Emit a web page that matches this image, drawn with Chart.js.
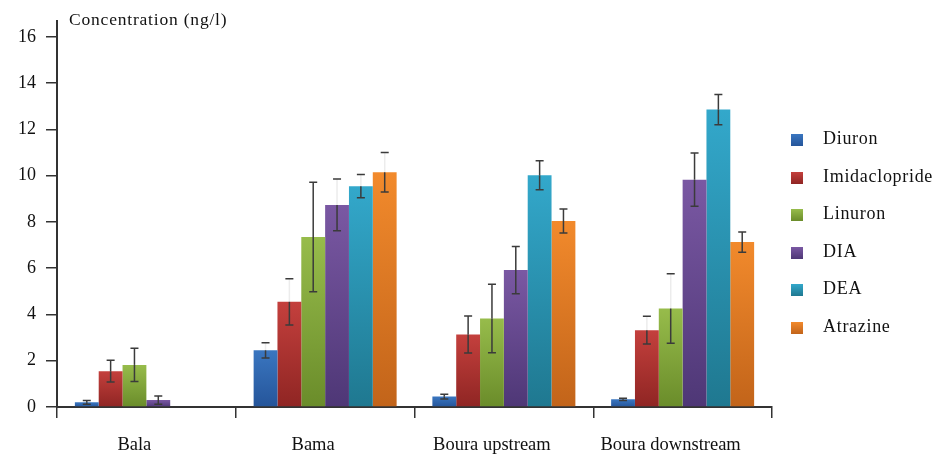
<!DOCTYPE html>
<html>
<head>
<meta charset="utf-8">
<script src="https://cdn.jsdelivr.net/npm/chart.js@4.4.1/dist/chart.umd.min.js"></script>
<style>
    html, body { margin: 0; padding: 0; background: #fff; }
    #wrap { position: relative; width: 942px; height: 469px; }
    #axisTitle {
        position: absolute; left: 69px; top: 9px;
        font: 17.5px "Liberation Serif", "DejaVu Serif", serif; color: #111;
        letter-spacing: 0.8px;
    }
    #legend { position: absolute; left: 791px; top: 0; }
    .item { position: absolute; left: 0; white-space: nowrap; height: 20px; }
    .box { position: absolute; left: 0; top: 4px; width: 12px; height: 12px; }
    .lbl {
        position: absolute; left: 32px; top: -2px;
        font: 18px "Liberation Serif", "DejaVu Serif", serif; color: #111;
        letter-spacing: 0.7px;
    }
</style>
</head>
<body>
<div id="wrap">
    <canvas id="chart"></canvas>
    <div id="axisTitle">Concentration (ng/l)</div>
    <div id="legend"></div>
</div>
<script>
    const categories = ['Bala', 'Bama', 'Boura upstream', 'Boura downstream'];
    const seriesNames = ['Diuron', 'Imidaclopride', 'Linuron', 'DIA', 'DEA', 'Atrazine'];
    const yTicks = [0, 2, 4, 6, 8, 10, 12, 14, 16];

    const diuron = [0.2, 2.45, 0.45, 0.33];
    const imidaclopride = [1.55, 4.55, 3.13, 3.32];
    const linuron = [1.82, 7.35, 3.83, 4.26];
    const dia = [0.3, 8.74, 5.92, 9.83];
    const dea = [0, 9.55, 10.02, 12.86];
    const atrazine = [0, 10.15, 8.04, 7.13];

    const diuronErr = [0.08, 0.33, 0.1, 0.05];
    const imidacloprideErr = [0.47, 1.0, 0.8, 0.6];
    const linuronErr = [0.72, 2.37, 1.48, 1.5];
    const diaErr = [0.18, 1.12, 1.02, 1.15];
    const deaErr = [0, 0.5, 0.63, 0.65];
    const atrazineErr = [0, 0.85, 0.52, 0.44];

    const values = [diuron, imidaclopride, linuron, dia, dea, atrazine];
    const errors = [diuronErr, imidacloprideErr, linuronErr, diaErr, deaErr, atrazineErr];

    // in the original some upper whiskers are almost invisible (only the cap shows)
    const faintUpper = ['0,1', '1,1', '3,1', '4,1', '5,1', '1,3', '2,3'];

    // light top / dark bottom, like the original gradient fill
    const colorsTop = ['#3a76c0', '#c4403d', '#97bc4b', '#7a58a3', '#33a8cb', '#f28a2c'];
    const colorsBottom = ['#25559a', '#8f2523', '#6a8c2a', '#4e3776', '#1f7890', '#c2641a'];

    const SERIF = '"Liberation Serif", "DejaVu Serif", serif';

    function barFill(i) {
        return function (ctx) {
            const chart = ctx.chart;
            if (!chart.chartArea || ctx.raw === undefined) return colorsTop[i];
            const y = chart.scales.y;
            const top = y.getPixelForValue(ctx.raw);
            const bottom = y.getPixelForValue(0);
            if (!isFinite(top) || bottom - top < 1) return colorsTop[i];
            const g = chart.ctx.createLinearGradient(0, top, 0, bottom);
            g.addColorStop(0, colorsTop[i]);
            g.addColorStop(1, colorsBottom[i]);
            return g;
        };
    }

    const errorBars = {
        id: 'errorBars',
        afterDatasetsDraw: function (chart) {
            const c = chart.ctx;
            const y = chart.scales.y;
            c.save();
            c.lineWidth = 1.5;
            errors.forEach(function (errs, i) {
                const meta = chart.getDatasetMeta(i);
                errs.forEach(function (e, j) {
                    if (!e) return;
                    const bar = meta.data[j];
                    const v = values[i][j];
                    const yHi = y.getPixelForValue(v + e);
                    const yMid = y.getPixelForValue(v);
                    const yLo = y.getPixelForValue(v - e);
                    const faint = faintUpper.indexOf(i + ',' + j) >= 0;
                    // upper whisker
                    c.strokeStyle = faint ? '#ececec' : '#3b3b3b';
                    c.beginPath();
                    c.moveTo(bar.x, yHi);
                    c.lineTo(bar.x, yMid);
                    c.stroke();
                    // lower whisker and caps
                    c.strokeStyle = '#3b3b3b';
                    c.beginPath();
                    c.moveTo(bar.x, yMid);
                    c.lineTo(bar.x, yLo);
                    c.moveTo(bar.x - 4, yHi);
                    c.lineTo(bar.x + 4, yHi);
                    c.moveTo(bar.x - 4, yLo);
                    c.lineTo(bar.x + 4, yLo);
                    c.stroke();
                });
            });
            c.restore();
        }
    };

    const chart = new Chart(document.getElementById('chart'), {
        type: 'bar',
        data: {
            labels: categories,
            datasets: seriesNames.map(function (name, i) {
                return {
                    label: name,
                    data: values[i],
                    backgroundColor: barFill(i),
                    borderWidth: 0,
                    categoryPercentage: 0.8,
                    barPercentage: 1.0
                };
            })
        },
        options: {
            responsive: true,
            maintainAspectRatio: false,
            animation: false,
            layout: { padding: { top: 9, right: 170, bottom: 0, left: 0 } },
            plugins: {
                legend: { display: false },
                tooltip: { enabled: false }
            },
            scales: {
                x: {
                    grid: {
                        offset: true,
                        drawOnChartArea: false,
                        drawTicks: true,
                        tickLength: 11,
                        color: '#333',
                        lineWidth: 1.5
                    },
                    border: { display: true, color: '#333', width: 2 },
                    ticks: {
                        color: '#111',
                        padding: 16,
                        labelOffset: -12,
                        maxRotation: 0,
                        font: { family: SERIF, size: 18.5 }
                    },
                    afterFit: function (scale) { scale.height = 62; }
                },
                y: {
                    min: 0,
                    max: 16.7,
                    afterBuildTicks: function (scale) {
                        scale.ticks = yTicks.map(function (v) { return { value: v }; });
                    },
                    grid: {
                        drawOnChartArea: false,
                        drawTicks: true,
                        tickLength: 11,
                        color: '#333',
                        lineWidth: 1.5
                    },
                    border: { display: true, color: '#333', width: 2 },
                    ticks: {
                        color: '#111',
                        padding: 10,
                        font: { family: SERIF, size: 18 }
                    },
                    afterFit: function (scale) { scale.width = 57; }
                }
            }
        },
        plugins: [errorBars]
    });

    // legend on the right
    const legend = document.getElementById('legend');
    seriesNames.forEach(function (name, i) {
        const item = document.createElement('div');
        item.className = 'item';
        item.style.top = (130 + i * 37.5) + 'px';
        const box = document.createElement('div');
        box.className = 'box';
        box.style.background = 'linear-gradient(' + colorsTop[i] + ',' + colorsBottom[i] + ')';
        const lbl = document.createElement('div');
        lbl.className = 'lbl';
        lbl.textContent = name;
        item.appendChild(box);
        item.appendChild(lbl);
        legend.appendChild(item);
    });
</script>
</body>
</html>
